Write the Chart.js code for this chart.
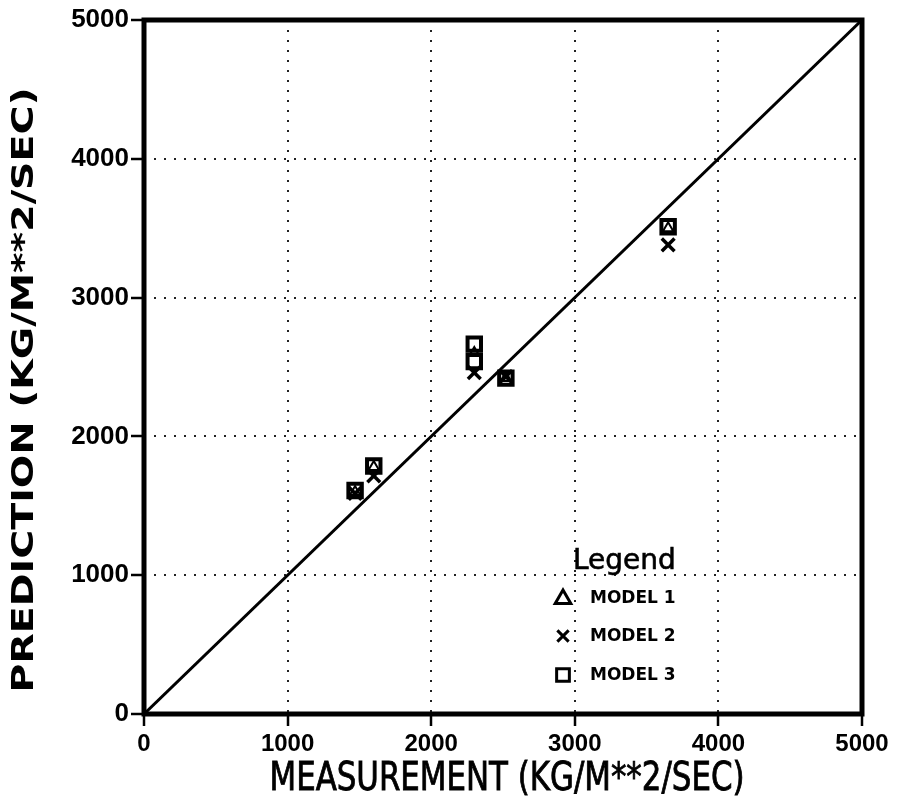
<!DOCTYPE html>
<html>
<head>
<meta charset="utf-8">
<script src="https://cdn.jsdelivr.net/npm/chart.js@4/dist/chart.umd.min.js"></script>
<style>
  html, body { margin: 0; padding: 0; background: #fff; }
  #wrap { width: 899px; height: 806px; position: relative; }
</style>
</head>
<body>
<div id="wrap"><canvas id="chart"></canvas></div>
<script>
// values (kg/m**2/sec)
const model1 = [
    { x: 1470, y: 1600 },
    { x: 1600, y: 1780 },
    { x: 2300, y: 2600 },
    { x: 2520, y: 2420 },
    { x: 3650, y: 3500 }
];
const model2 = [
    { x: 1470, y: 1590 },
    { x: 1600, y: 1715 },
    { x: 2300, y: 2460 },
    { x: 2520, y: 2430 },
    { x: 3650, y: 3380 }
];
const model3 = [
    { x: 1470, y: 1610 },
    { x: 1600, y: 1787 },
    { x: 2300, y: 2665 },
    { x: 2300, y: 2540 },
    { x: 2520, y: 2420 },
    { x: 3650, y: 3510 }
];
const identityLine = [{ x: 0, y: 0 }, { x: 5000, y: 5000 }];
const xTitle = 'MEASUREMENT (KG/M**2/SEC)';
const yTitle = 'PREDICTION (KG/M**2/SEC)';
const legendLabels = ['MODEL 1', 'MODEL 2', 'MODEL 3'];
const legendStyles = ['triangle', 'crossRot', 'rect'];

// draws text stretched/squeezed to a given length
function fitText(ctx, text, cx, cy, len, rot, stroke) {
    const w = ctx.measureText(text).width;
    ctx.save();
    ctx.translate(cx, cy);
    ctx.rotate(rot);
    ctx.scale(len / w, 1);
    ctx.textAlign = 'center';
    ctx.textBaseline = 'middle';
    ctx.fillText(text, 0, 0);
    if (stroke) ctx.strokeText(text, 0, 0);
    ctx.restore();
}

const frame = {
    id: 'frame',
    afterDraw(chart) {
        const { ctx, chartArea: a } = chart;
        ctx.save();
        ctx.strokeStyle = '#000';
        ctx.lineWidth = 5;
        ctx.strokeRect(a.left, a.top, a.right - a.left, a.bottom - a.top);

        // axis titles
        ctx.fillStyle = '#000';
        ctx.lineWidth = 0.8;
        ctx.font = '39px "Liberation Sans Narrow", "DejaVu Sans Condensed", sans-serif';
        fitText(ctx, xTitle, 507, 780, 475, 0, true);
        ctx.font = 'bold 31px "DejaVu Sans"';
        fitText(ctx, yTitle, 25, 390, 605, -Math.PI / 2, false);

        // legend inside the plot
        ctx.textBaseline = 'alphabetic';
        ctx.textAlign = 'left';
        ctx.font = '28px "DejaVu Sans"';
        ctx.lineWidth = 0.6;
        ctx.fillText('Legend', 573, 569);
        ctx.strokeText('Legend', 573, 569);
        const rows = [598, 636, 675];
        const radii = [9, 8, 9];
        rows.forEach((y, i) => {
            ctx.lineWidth = 3;
            ctx.strokeStyle = '#000';
            ctx.fillStyle = 'rgba(0,0,0,0)';
            Chart.helpers.drawPoint(ctx, { pointStyle: legendStyles[i], radius: radii[i], borderWidth: 3 }, 563, y + (i === 0 ? 1 : 0));
            ctx.fillStyle = '#000';
            ctx.font = 'bold 17px "DejaVu Sans"';
            ctx.textBaseline = 'middle';
            ctx.fillText(legendLabels[i], 590, y + 1);
        });
        ctx.restore();
    }
};

const plain = v => String(v);

new Chart(document.getElementById('chart'), {
    type: 'scatter',
    data: {
        datasets: [
            {
                label: 'line',
                type: 'line',
                data: identityLine,
                borderColor: '#000',
                borderWidth: 3,
                pointRadius: 0,
                fill: false
            },
            {
                label: 'MODEL 3',
                data: model3,
                pointStyle: 'rect',
                pointRadius: 9.5,
                borderColor: '#000',
                backgroundColor: 'rgba(0,0,0,0)',
                borderWidth: 4
            },
            {
                label: 'MODEL 1',
                data: model1,
                pointStyle: 'triangle',
                pointRadius: 6,
                borderColor: '#000',
                backgroundColor: 'rgba(0,0,0,0)',
                borderWidth: 2
            },
            {
                label: 'MODEL 2',
                data: model2,
                pointStyle: 'crossRot',
                pointRadius: 9,
                borderColor: '#000',
                borderWidth: 3.5
            }
        ]
    },
    options: {
        responsive: true,
        maintainAspectRatio: false,
        animation: false,
        layout: { padding: { top: 20, right: 37, left: 0, bottom: 0 } },
        plugins: { legend: { display: false }, tooltip: { enabled: false } },
        scales: {
            x: {
                type: 'linear',
                min: 0, max: 5000,
                ticks: { stepSize: 1000, color: '#000', font: { family: '"Liberation Sans"', size: 24, weight: 'bold' }, padding: 4, maxRotation: 0, callback: plain },
                grid: { color: '#222', lineWidth: 2, tickLength: 12, tickColor: '#000', tickWidth: 2.5, tickBorderDash: [] },
                border: { display: false, dash: [2, 8] },
                afterFit(scale) { scale.height = 92; }
            },
            y: {
                type: 'linear',
                min: 0, max: 5000,
                ticks: { stepSize: 1000, color: '#000', font: { family: '"Liberation Sans"', size: 26, weight: 'bold' }, padding: 2, callback: plain },
                grid: { color: '#222', lineWidth: 2, tickLength: 13, tickColor: '#000', tickWidth: 2.5, tickBorderDash: [] },
                border: { display: false, dash: [2, 8] },
                afterFit(scale) { scale.width = 144; }
            }
        }
    },
    plugins: [frame]
});
</script>
</body>
</html>
